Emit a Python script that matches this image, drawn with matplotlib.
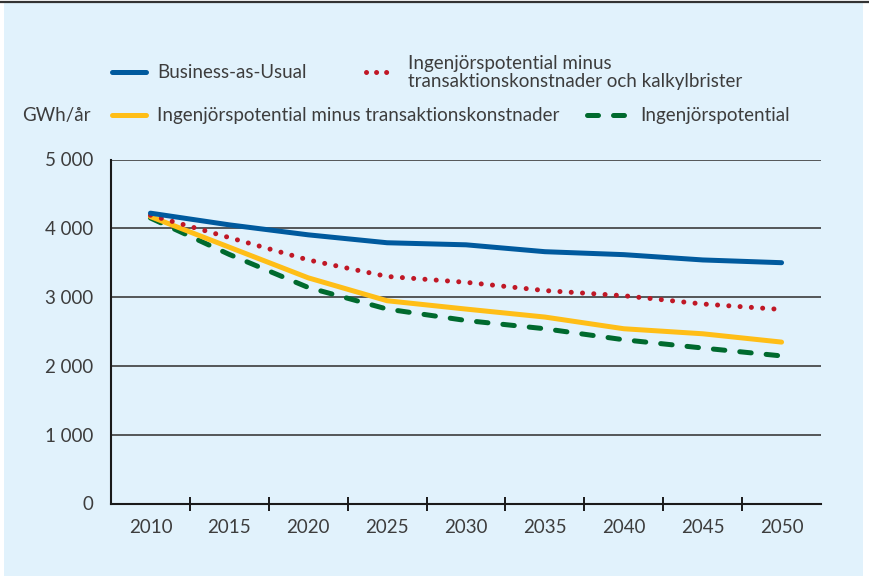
import matplotlib
matplotlib.use("Agg")
import matplotlib.pyplot as plt
from matplotlib.lines import Line2D
from matplotlib.ticker import FuncFormatter, FixedLocator

plt.rcParams['font.family'] = ['Lato', 'DejaVu Sans']

years = ["2010", "2015", "2020", "2025", "2030", "2035", "2040", "2045", "2050"]
bau = [4220, 4050, 3905, 3790, 3760, 3660, 3617, 3540, 3500]
minus_tk_kalkyl = [4190, 3865, 3540, 3300, 3215, 3095, 3020, 2900, 2820]
minus_tk = [4170, 3725, 3280, 2947, 2826, 2710, 2540, 2467, 2346]
ingenjor = [4150, 3620, 3140, 2826, 2660, 2540, 2380, 2260, 2145]

label_bau = "Business-as-Usual"
label_red = "Ingenjörspotential minus\ntransaktionskonstnader och kalkylbrister"
label_yel = "Ingenjörspotential minus transaktionskonstnader"
label_grn = "Ingenjörspotential"
ylabel = "GWh/år"

BLUE = "#005a9e"
RED = "#c01826"
YEL = "#ffbe17"
GRN = "#006a2e"
BG = "#e1f2fc"
TXT = "#3d3d3d"

W, H = 869, 576
fig = plt.figure(figsize=(W / 100, H / 100), dpi=100)
fig.patch.set_facecolor("white")

def fx(x):
    return x / W

def fy(y):
    return 1 - y / H

# background panel
fig.add_artist(plt.Rectangle((fx(4), 0), fx(863) - fx(4), fy(3), transform=fig.transFigure,
                             facecolor=BG, edgecolor="none", zorder=-10))
fig.add_artist(Line2D([0, 1], [fy(2), fy(2)], transform=fig.transFigure, color="#333333", lw=1.6))

ax = fig.add_axes([fx(111), fy(503.5), fx(821) - fx(111), fy(159.5) - fy(503.5)])
ax.set_facecolor("none")

x = list(range(len(years)))
lw = 3.6
ax.plot(x, bau, color=BLUE, lw=lw, solid_capstyle="round", solid_joinstyle="round", zorder=5)
ax.plot(x, minus_tk_kalkyl, color=RED, lw=lw, linestyle=(0, (0.01, 2.25)), dash_capstyle="round", zorder=4)
ax.plot(x, minus_tk, color=YEL, lw=lw, solid_capstyle="round", solid_joinstyle="round", zorder=3)
ax.plot(x, ingenjor, color=GRN, lw=lw, linestyle=(0, (2.3, 3.0)), dash_capstyle="round", zorder=2)

ax.set_xlim(-0.5, len(years) - 0.5)
ax.set_ylim(0, 5000)
ax.set_yticks([0, 1000, 2000, 3000, 4000, 5000])
ax.yaxis.set_major_formatter(FuncFormatter(lambda v, p: f"{int(v):,}".replace(",", " ")))
ax.grid(axis="y", color="#3c3c3c", lw=1.2, zorder=0)
ax.set_axisbelow(True)

fs = 13.5
ax.set_xticks(x)
ax.set_xticklabels(years)
ax.xaxis.set_minor_locator(FixedLocator([i + 0.5 for i in range(len(years) - 1)]))
ax.tick_params(axis="x", which="major", length=0, pad=11, labelsize=fs, labelcolor=TXT)
ax.tick_params(axis="x", which="minor", length=9.5, width=1.4, direction="inout", color="#1a1a1a")
ax.tick_params(axis="y", length=0, pad=13, labelsize=fs, labelcolor=TXT)

for s in ["top", "right"]:
    ax.spines[s].set_visible(False)
for s in ["left", "bottom"]:
    ax.spines[s].set_color("#1a1a1a")
    ax.spines[s].set_linewidth(1.5)

# legend (manual)
def handle(x0, x1, y, color, ls):
    ln = Line2D([fx(x0), fx(x1)], [fy(y), fy(y)], transform=fig.transFigure, color=color, lw=lw,
                linestyle=ls, solid_capstyle="round", dash_capstyle="round")
    fig.add_artist(ln)

handle(112, 146, 72, BLUE, "-")
fig.text(fx(157), fy(72), label_bau, fontsize=fs, color=TXT, va="center", ha="left")
handle(366, 396, 72, RED, (0, (0.01, 2.0)))
fig.text(fx(408), fy(72.5), label_red, fontsize=fs, color=TXT, va="center", ha="left", linespacing=1.1)

fig.text(fx(22), fy(115), ylabel, fontsize=fs, color=TXT, va="center", ha="left")
handle(112, 146, 115, YEL, "-")
fig.text(fx(157), fy(115), label_yel, fontsize=fs, color=TXT, va="center", ha="left")
handle(587, 625, 115, GRN, (0, (2.2, 3.0)))
fig.text(fx(640), fy(115), label_grn, fontsize=fs, color=TXT, va="center", ha="left")

fig.savefig("out.png", dpi=100)
